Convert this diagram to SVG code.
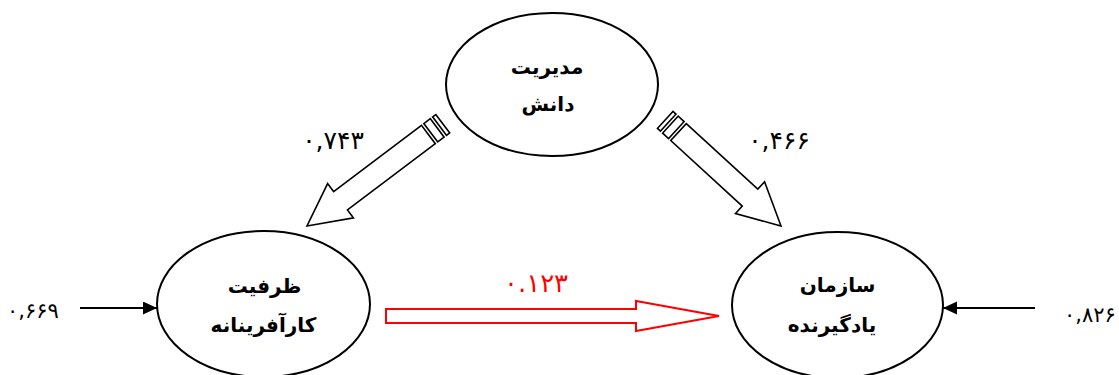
<svg xmlns="http://www.w3.org/2000/svg" width="1119" height="375" viewBox="0 0 1119 375">
<defs>
<style>
.node{fill:#fff;stroke:#000;stroke-width:2}
.lbl{font-family:"DejaVu Sans",sans-serif;font-weight:bold;font-size:20px;text-anchor:middle;fill:#000}
.num{font-family:"DejaVu Sans",sans-serif;font-size:25px;text-anchor:middle;fill:#000}
.blk{fill:#fff;stroke:#000;stroke-width:1.6;stroke-linejoin:miter}
.inp{stroke:#000;stroke-width:2.2;fill:none}
</style>
<marker id="ah" markerUnits="userSpaceOnUse" markerWidth="15" markerHeight="14" refX="14" refY="6.5" orient="auto">
<path d="M0,0 L14,6.5 L0,13 Z" fill="#000"/>
</marker>
</defs>
<rect width="1119" height="375" fill="#fff"/>
<g id="connectors">
<g id="arrow-km-ec" transform="translate(307,226) rotate(143) translate(-170,0)">
<path class="blk" d="M18,-11.5 H128 V-21.5 L170,0 L128,21.5 V11.5 H18 Z"/>
<rect class="blk" x="7" y="-11.5" width="8" height="23"/>
<rect class="blk" x="0" y="-11.5" width="4" height="23"/>
</g>
<g id="arrow-km-lo" transform="translate(781,226) rotate(42.5) translate(-157,0)">
<path class="blk" d="M18,-11.5 H115 V-21.5 L157,0 L115,21.5 V11.5 H18 Z"/>
<rect class="blk" x="7" y="-11.5" width="8" height="23"/>
<rect class="blk" x="0" y="-11.5" width="4" height="23"/>
</g>
<path id="arrow-ec-lo" d="M386,309 H636 V301 L719,316 L636,331 V323 H386 Z" fill="#fff" stroke="#f00" stroke-width="2"/>
<line class="inp" x1="80" y1="308" x2="157" y2="308" marker-end="url(#ah)"/>
<line class="inp" x1="1035" y1="308" x2="943" y2="308" marker-end="url(#ah)"/>
<text class="num" x="333" y="149">۰,۷۴۳</text>
<text class="num" x="779" y="149">۰,۴۶۶</text>
<text class="num" x="536" y="292" style="fill:#f00;font-size:26px">۰.۱۲۳</text>
<text class="num" x="33" y="318" style="font-size:21px">۰,۶۶۹</text>
<text class="num" x="1090" y="322" style="font-size:21px">۰,۸۲۶</text>
</g>
<g id="node-km">
<ellipse class="node" cx="552" cy="84.5" rx="106" ry="71.5"/>
<text class="lbl" x="547" y="74">مدیریت</text>
<text class="lbl" x="548" y="111">دانش</text>
</g>
<g id="node-ec">
<ellipse class="node" cx="263.5" cy="304" rx="106.5" ry="73"/>
<text class="lbl" x="264.5" y="293">ظرفیت</text>
<text class="lbl" x="263.5" y="332">کارآفرینانه</text>
</g>
<g id="node-lo">
<ellipse class="node" cx="837.5" cy="305" rx="105.5" ry="73"/>
<text class="lbl" x="837.5" y="292">سازمان</text>
<text class="lbl" x="832" y="332">یادگیرنده</text>
</g>
</svg>
